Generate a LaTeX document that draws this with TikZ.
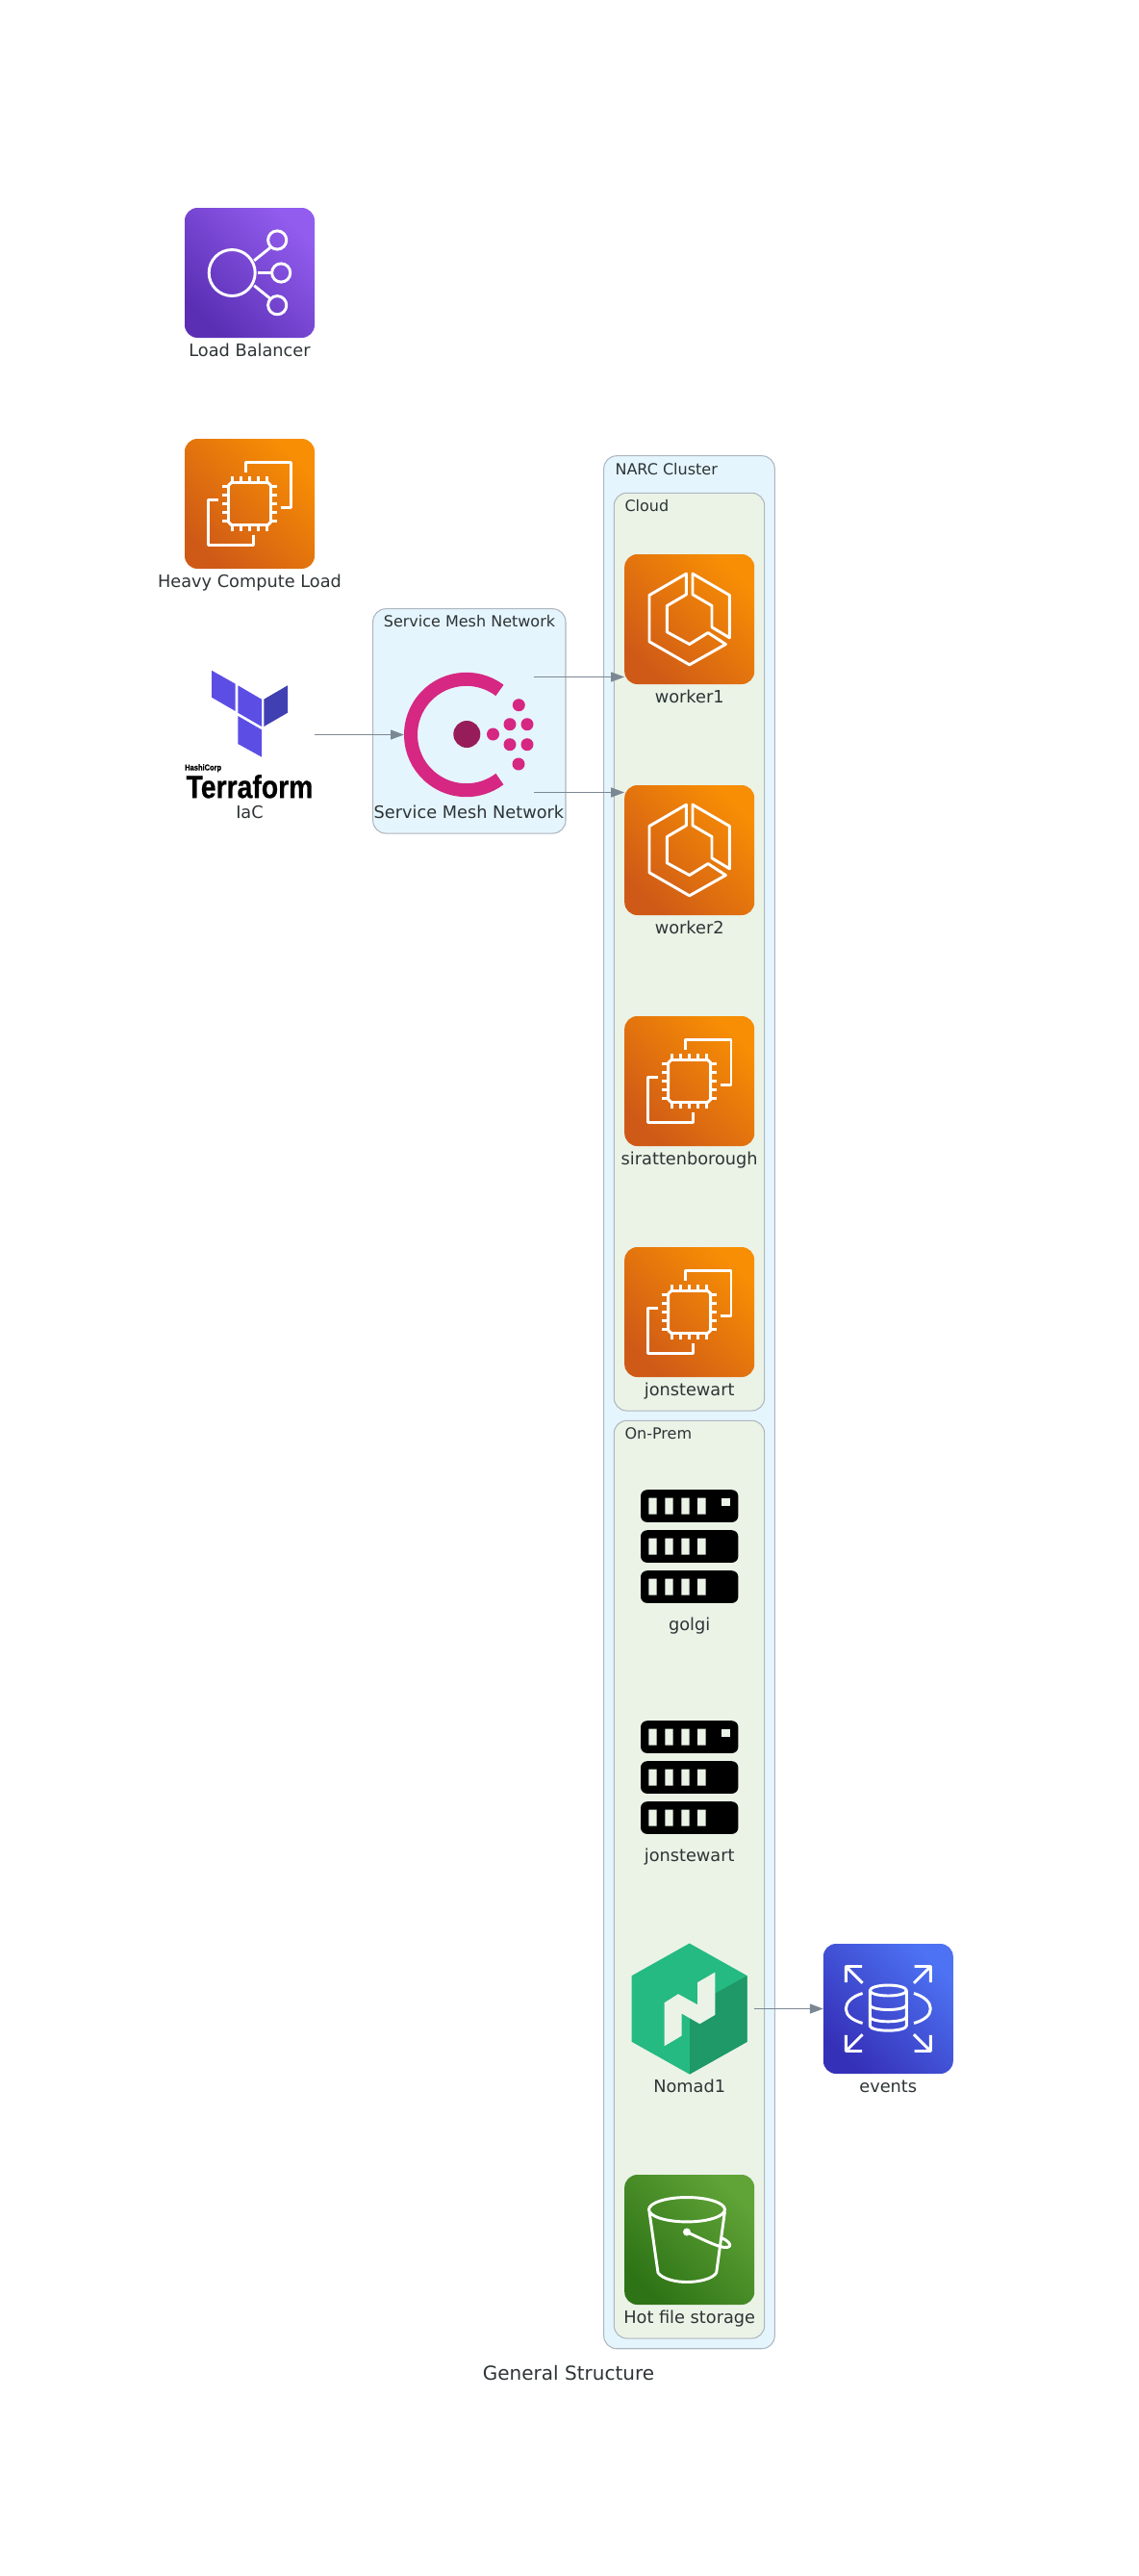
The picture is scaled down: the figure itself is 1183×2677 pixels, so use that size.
\documentclass[tikz,border=0pt]{standalone}
\usepackage{fontspec}
\setmainfont{DejaVu Sans}
\newfontfamily\tffont[FakeStretch=0.85,FakeBold=0.6]{Liberation Sans Bold}
\usetikzlibrary{arrows.meta,positioning}

\definecolor{edgegray}{HTML}{7B8894}
\definecolor{inkgray}{HTML}{2D3436}
\definecolor{penblue}{HTML}{AEB6BE}
\definecolor{clusterblue}{HTML}{E5F5FD}
\definecolor{clustergreen}{HTML}{EBF3E7}
\definecolor{orangetop}{HTML}{F78E04}
\definecolor{orangelow}{HTML}{CF5A17}
\definecolor{purpletop}{HTML}{925CEE}
\definecolor{purplelow}{HTML}{5A2FB4}
\definecolor{bluetop}{HTML}{4D72F3}
\definecolor{bluelow}{HTML}{3530B8}
\definecolor{greentop}{HTML}{60A337}
\definecolor{greenlow}{HTML}{2E7416}
\definecolor{nomadlight}{HTML}{25BA81}
\definecolor{nomaddark}{HTML}{1F9967}
\definecolor{consulpink}{HTML}{D62783}
\definecolor{consuldark}{HTML}{961D59}
\definecolor{tfviolet}{HTML}{5C4EE5}
\definecolor{tfdark}{HTML}{4040B2}

\tikzset{
    iconbox/.style={rectangle,minimum size=101.25pt,inner sep=0pt,outer sep=0pt,rounded corners=10pt},
    orangeicon/.style={iconbox,top color=orangetop,bottom color=orangelow,shading angle=-45},
    purpleicon/.style={iconbox,top color=purpletop,bottom color=purplelow,shading angle=-45},
    blueicon/.style={iconbox,top color=bluetop,bottom color=bluelow,shading angle=-45},
    greenicon/.style={iconbox,top color=greentop,bottom color=greenlow,shading angle=-45},
    plainicon/.style={iconbox},
    iconlabel/.style={inner sep=0pt,text height=10pt,text depth=3pt,text=inkgray,font=\fontsize{13.3}{15}\selectfont},
    clusterbox/.style={rectangle,draw=penblue,line width=0.8pt,rounded corners=10pt,inner sep=0pt,outer sep=0pt,anchor=north west},
    clusterlabel/.style={inner sep=0pt,text=inkgray,font=\fontsize{12}{14}\selectfont},
    glyphline/.style={draw=white,line width=2.2pt,line join=round},
    balancerglyph/.pic={
        \draw[glyphline] (-18.3,0) circle[radius=24];
        \draw[glyphline] (28.7,34) circle[radius=9.6];
        \draw[glyphline] (32.7,0) circle[radius=9.6];
        \draw[glyphline] (28.7,-33.7) circle[radius=9.6];
        \draw[glyphline] (4.7,12.7) -- (21.3,26);
        \draw[glyphline] (8,0) -- (23,0);
        \draw[glyphline] (4.7,-13.3) -- (21.3,-26.7);
    },
    computeglyph/.pic={
        \draw[glyphline] (-19,22) -- (19,22) -- (22,19) -- (22,-19) -- (19,-22) -- (-19,-22) -- (-22,-19) -- (-22,19) -- cycle;
        \draw[glyphline] (-18,22) -- (-18,28.7) (-9,22) -- (-9,28.7) (0,22) -- (0,28.7) (9,22) -- (9,28.7) (18,22) -- (18,28.7);
        \draw[glyphline] (-18,-22) -- (-18,-28.7) (-9,-22) -- (-9,-28.7) (0,-22) -- (0,-28.7) (9,-22) -- (9,-28.7) (18,-22) -- (18,-28.7);
        \draw[glyphline] (-22,18) -- (-28.7,18) (-22,9) -- (-28.7,9) (-22,0) -- (-28.7,0) (-22,-9) -- (-28.7,-9) (-22,-18) -- (-28.7,-18);
        \draw[glyphline] (22,18) -- (28.7,18) (22,9) -- (28.7,9) (22,0) -- (28.7,0) (22,-9) -- (28.7,-9) (22,-18) -- (28.7,-18);
        \draw[glyphline] (-4,32.7) -- (-4,43.3) -- (43.3,43.3) -- (43.3,-4) -- (32.7,-4);
        \draw[glyphline] (-32.7,3.7) -- (-43.3,3.7) -- (-43.3,-43.3) -- (3.7,-43.3) -- (3.7,-32.7);
    },
    clusterglyph/.pic={
        \draw[glyphline] (-3.3,47.3) -- (-41.7,25) -- (-41.7,-23.3) -- (0,-47.3) -- (37.7,-26) -- (19.3,-14) -- (0,-26) -- (-23.3,-13.3) -- (-23.3,14) -- (-3.3,25.7) -- cycle;
        \draw[glyphline] (3.3,47.3) -- (41.7,25) -- (41.7,-19.3) -- (23.3,-8.3) -- (23.3,14) -- (3.3,25.7) -- cycle;
    },
    serverglyph/.pic={
        \fill[black,rounded corners=5pt] (-50.7,59.3) rectangle (50.7,25.6);
        \fill[black,rounded corners=5pt] (-50.7,17.3) rectangle (50.7,-16.4);
        \fill[black,rounded corners=5pt] (-50.7,-24.7) rectangle (50.7,-58.4);
        \fill[clustergreen] (-42.3,51) rectangle (-34,34) (-25.3,51) rectangle (-17,34) (-8.3,51) rectangle (0,34) (8.3,51) rectangle (17,34);
        \fill[clustergreen] (-42.3,9) rectangle (-34,-8) (-25.3,9) rectangle (-17,-8) (-8.3,9) rectangle (0,-8) (8.3,9) rectangle (17,-8);
        \fill[clustergreen] (-42.3,-33) rectangle (-34,-50) (-25.3,-33) rectangle (-17,-50) (-8.3,-33) rectangle (0,-50) (8.3,-33) rectangle (17,-50);
        \fill[clustergreen] (33.7,51) rectangle (42.3,42.5);
    },
    nomadglyph/.pic={
        \fill[nomadlight] (0,68) -- (60,34.3) -- (60,-34.3) -- (0,-68) -- (-60,-34.3) -- (-60,34.3) -- cycle;
        \fill[nomaddark] (60,34.3) -- (60,-34.3) -- (0.3,-68) -- (0.3,-9.7) -- (10.7,-15.7) -- (26.7,-6.3) -- (26.7,16) -- cycle;
        \fill[clustergreen] (26.7,38) -- (26.7,-6.3) -- (10.7,-15.7) -- (-8,-5) -- (-8,-28) -- (-26,-38.7) -- (-26,6.3) -- (-11.7,15.3) -- (8.3,4.3) -- (8.3,27.3) -- cycle;
    },
    databaseglyph/.pic={
        \draw[glyphline] (0,19) ellipse[x radius=19,y radius=5.5];
        \draw[glyphline] (-19,19) -- (-19,-17.7) arc[start angle=180,end angle=360,x radius=19,y radius=5] -- (19,19);
        \draw[glyphline] (-19,4) arc[start angle=180,end angle=360,x radius=19,y radius=5];
        \draw[glyphline] (-19,-8.3) arc[start angle=180,end angle=360,x radius=19,y radius=5];
        \draw[glyphline] (-26.7,16) .. controls (-37,13) and (-44,7) .. (-44,0) .. controls (-44,-7) and (-37,-12) .. (-26.7,-15);
        \draw[glyphline] (26.7,16) .. controls (37,13) and (44,7) .. (44,0) .. controls (44,-7) and (37,-12) .. (26.7,-15);
        \draw[glyphline] (-27.3,44) -- (-44,44) -- (-44,27.3) (-44,44) -- (-26.7,26.7);
        \draw[glyphline] (27.3,44) -- (44,44) -- (44,27.3) (44,44) -- (26.7,26.7);
        \draw[glyphline] (-27.3,-44) -- (-44,-44) -- (-44,-27.3) (-44,-44) -- (-26.7,-26.7);
        \draw[glyphline] (27.3,-44) -- (44,-44) -- (44,-27.3) (44,-44) -- (26.7,-26.7);
    },
    bucketglyph/.pic={
        \draw[glyphline] (-2.7,31.3) ellipse[x radius=39.5,y radius=12.7];
        \draw[glyphline] (-41.7,29) -- (-32.7,-34.3) .. controls (-28,-41) and (-14,-44) .. (-2.7,-44) .. controls (9,-44) and (24,-41) .. (28,-34.3) -- (36.7,29);
        \fill[white] (-2.7,8) circle[radius=4];
        \draw[glyphline] (-2.7,8) .. controls (8,3) and (22,-4) .. (31.7,-7) .. controls (38,-9) and (43,-8) .. (42,-5) .. controls (41,-2) and (36,1) .. (32.7,2);
    },
    consulglyph/.pic={
        \draw[consulpink,line width=10.5pt] (-2.8,0) ++(53:57.7) arc[start angle=53,end angle=307,radius=57.7];
        \fill[consuldark] (-2.2,0.5) circle[radius=14];
        \fill[consulpink] (25,0.5) circle[radius=6.5];
        \fill[consulpink] (42.5,10.8) circle[radius=6.5];
        \fill[consulpink] (60.5,10.8) circle[radius=6.5];
        \fill[consulpink] (42.5,-10.2) circle[radius=6.5];
        \fill[consulpink] (60.5,-10.2) circle[radius=6.5];
        \fill[consulpink] (51.8,30.8) circle[radius=6.5];
        \fill[consulpink] (51.5,-30.5) circle[radius=6.5];
    },
    terraformglyph/.pic={
        \fill[tfviolet] (-39.5,66.8) -- (-14.8,52.8) -- (-14.8,24.5) -- (-39.5,38.8) -- cycle;
        \fill[tfviolet] (-12.2,51.2) -- (12.5,36.8) -- (12.5,8.5) -- (-12.2,22.8) -- cycle;
        \fill[tfdark] (14.8,36.8) -- (39.5,51.2) -- (39.5,22.8) -- (14.8,8.5) -- cycle;
        \fill[tfviolet] (-12.2,19.5) -- (12.5,5.2) -- (12.5,-23.2) -- (-12.2,-9.5) -- cycle;
        \node[inner sep=0pt,anchor=west] (hashiword) at (-67.5,-34.8) {\tffont\fontsize{6.6}{8}\selectfont HashiCorp};
        \node[inner sep=0pt] (tfword) at (0,-53.8) {\tffont\fontsize{25}{28}\selectfont Terraform};
    },
}

\begin{document}
\begin{tikzpicture}[x=0.75pt,y=0.75pt]
        \useasboundingbox (0,0) rectangle (1183,-2677);

        % clusters
        \node[clusterbox,fill=clusterblue,minimum width=150.2pt,minimum height=175pt] (meshbox) at (387.7,-632.7) {};
        \node[clusterbox,fill=clusterblue,minimum width=133.2pt,minimum height=1475.25pt] (narcbox) at (627.7,-473.7) {};
        \node[clusterbox,fill=clustergreen,minimum width=117.3pt,minimum height=715.3pt] (cloudbox) at (638.3,-512.3) {};
        \node[clusterbox,fill=clustergreen,minimum width=117.3pt,minimum height=715.3pt] (prembox) at (638.3,-1476.3) {};
        \node[clusterlabel] (meshlabel) at (488,-646) {Service Mesh Network};
        \node[clusterlabel,anchor=west] (narclabel) at (639.3,-487.5) {NARC Cluster};
        \node[clusterlabel,anchor=west] (cloudlabel) at (649.3,-526) {Cloud};
        \node[clusterlabel,anchor=west] (premlabel) at (649.3,-1490) {On-Prem};

        % icons
        \node[purpleicon] (balancer) at (259.5,-283.5) {};
        \node[orangeicon] (heavy) at (259.5,-523.5) {};
        \node[plainicon] (iac) at (259.5,-763.5) {};
        \node[plainicon] (consul) at (487.5,-763.5) {};
        \node[orangeicon] (worker1) at (716.7,-643.5) {};
        \node[orangeicon] (worker2) at (716.7,-883.5) {};
        \node[orangeicon] (sirat) at (716.7,-1123.5) {};
        \node[orangeicon] (jon) at (716.7,-1363.5) {};
        \node[plainicon] (golgi) at (716.7,-1607.5) {};
        \node[plainicon] (jonprem) at (716.7,-1847.5) {};
        \node[plainicon] (nomad) at (716.7,-2087.5) {};
        \node[blueicon] (events) at (923.3,-2087.5) {};
        \node[greenicon] (hotfiles) at (716.7,-2327.5) {};

        \pic at (balancer) {balancerglyph};
        \pic at (heavy) {computeglyph};
        \pic at (iac) {terraformglyph};
        \pic at (consul) {consulglyph};
        \pic at (worker1) {clusterglyph};
        \pic at (worker2) {clusterglyph};
        \pic at (sirat) {computeglyph};
        \pic at (jon) {computeglyph};
        \pic at (golgi) {serverglyph};
        \pic at (jonprem) {serverglyph};
        \pic at (nomad) {nomadglyph};
        \pic at (events) {databaseglyph};
        \pic at (hotfiles) {bucketglyph};

        % labels
        \begin{scope}[every node/.style={iconlabel}]
            \node[below=4.5pt of balancer] (balancertext) {Load Balancer};
            \node[below=4.5pt of heavy] (heavytext) {Heavy Compute Load};
            \node[below=4.5pt of iac] (iactext) {IaC};
            \node[below=4.5pt of consul] (consultext) {Service Mesh Network};
            \node[below=4.5pt of worker1] (worker1text) {worker1};
            \node[below=4.5pt of worker2] (worker2text) {worker2};
            \node[below=4.5pt of sirat] (sirattext) {sirattenborough};
            \node[below=4.5pt of jon] (jontext) {jonstewart};
            \node[below=4.5pt of golgi] (golgitext) {golgi};
            \node[below=4.5pt of jonprem] (jonpremtext) {jonstewart};
            \node[below=4.5pt of nomad] (nomadtext) {Nomad1};
            \node[below=4.5pt of events] (eventstext) {events};
            \node[below=4.5pt of hotfiles] (hotfilestext) {Hot file storage};
        \end{scope}

        \node[inner sep=0pt,text=inkgray,font=\fontsize{15}{18}\selectfont] (title) at (591,-2466) {General Structure};

        % connectors
        \coordinate (meshout1) at ([yshift=45pt]consul.east);
        \coordinate (meshout2) at ([yshift=-45pt]consul.east);
        \coordinate (worker1in) at (meshout1 -| worker1.west);
        \coordinate (worker2in) at (meshout2 -| worker2.west);

        \begin{scope}[>={Triangle[length=10.5pt,width=7.5pt]},
            every edge/.style={draw=edgegray,line width=1pt}]
            \path [->] (iac) edge (consul);
            \path [->] (meshout1) edge (worker1in);
            \path [->] (meshout2) edge (worker2in);
            \path [->] (nomad) edge (events);
        \end{scope}
    \end{tikzpicture}
\end{document}
